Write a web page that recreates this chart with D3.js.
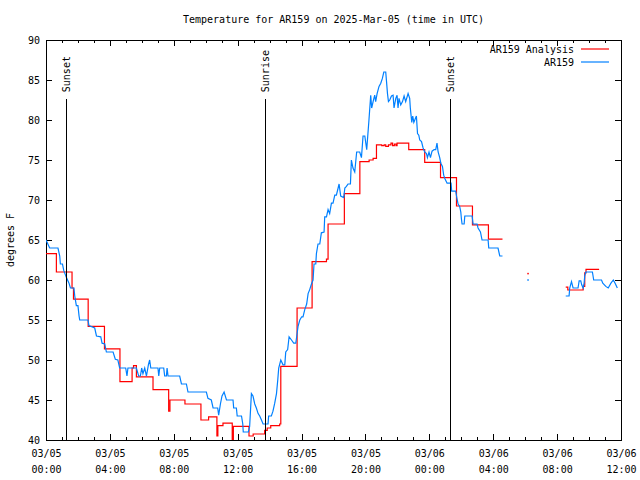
<!DOCTYPE html>
<html><head><meta charset="utf-8">
<script src="https://cdn.jsdelivr.net/npm/d3@7"></script>
<style>
body{margin:0;background:#fff;}
svg{display:block;}
text{font-family:"DejaVu Sans Mono","Liberation Mono",monospace;font-size:10px;fill:#000;}
</style></head><body>
<svg id="chart" width="640" height="480"></svg>
<script>
// ---------------- data (hours after 2025-03-05 00:00 UTC) ----------------
const chartTitle = "Temperature for AR159 on 2025-Mar-05 (time in UTC)";
const yAxisLabel = "degrees F";
const seriesNames = ["AR159 Analysis", "AR159"];
const seriesColors = ["#ff0000", "#0080ff"];

// AR159 station observations (null = gap)
const stationHours = [0,0.23,0.75,0.86,0.90,1.03,1.11,1.28,1.44,1.53,1.75,1.80,1.90,2.00,2.07,2.11,2.63,2.69,3.05,3.16,
  3.43,3.51,3.68,3.78,4.20,4.34,4.50,4.61,4.99,5.07,5.13,5.66,5.80,5.91,5.99,6.07,6.18,6.29,6.41,6.49,
  6.56,7.01,7.06,7.12,7.37,7.43,7.54,7.58,7.64,8.37,8.48,8.79,8.89,10.04,10.14,10.35,10.46,10.75,10.81,10.92,
  11.02,11.15,11.30,11.71,11.75,11.92,11.97,12.24,12.32,12.35,12.67,12.75,12.86,12.96,13.07,13.17,13.28,13.38,13.49,13.59,
  13.90,13.94,14.11,14.21,14.32,14.43,14.51,14.57,14.70,14.84,14.95,15.01,15.13,15.22,15.37,15.51,15.64,15.70,15.78,15.89,
  16.01,16.09,16.20,16.32,16.41,16.51,16.62,16.72,16.78,16.89,16.93,17.03,17.14,17.24,17.41,17.45,17.56,17.66,17.76,17.87,
  17.97,18.08,18.18,18.29,18.35,18.45,18.64,18.71,18.81,18.91,19.06,19.12,19.22,19.33,19.45,19.64,19.75,19.85,19.96,20.08,
  20.22,20.33,20.39,20.48,20.58,20.64,20.73,20.85,20.96,21.06,21.15,21.27,21.32,21.38,21.44,21.52,21.63,21.73,21.79,21.90,
  21.98,22.04,22.10,22.21,22.32,22.42,22.52,22.67,22.77,22.81,22.90,22.96,23.03,23.19,23.26,23.34,23.40,23.51,23.61,23.71,
  23.82,23.88,23.98,24.07,24.17,24.30,24.40,24.48,24.55,24.65,24.72,24.82,24.90,24.97,25.11,25.36,25.40,25.65,25.72,25.80,
  25.90,25.97,26.01,26.05,26.18,26.22,26.68,26.74,26.99,27.05,27.20,27.30,27.68,27.72,28.30,28.41,28.58,29.0,
  30.18,30.5,
  32.54,32.75,32.79,32.90,33.00,33.31,33.38,33.48,33.54,33.63,33.69,33.73,33.79,33.88,34.21,34.29,34.78,34.86,35.05,35.20,
  35.37,35.52,35.63,35.77];
const stationTemps = [65.0,64.0,64.0,63.0,62.0,62.0,61.2,60.3,59.6,59.0,59.0,58.0,56.8,56.8,55.5,55.0,55.0,54.3,54.0,53.0,
  52.9,52.1,52.0,51.0,51.0,50.1,50.0,49.0,49.0,48.0,49.0,49.0,48.0,48.0,49.0,48.3,49.0,48.0,49.4,50.0,
  49.0,49.0,48.0,49.0,49.0,48.0,48.0,49.0,48.0,48.0,47.0,47.0,46.0,46.0,45.2,45.0,44.0,44.0,43.1,44.5,
  45.5,46.0,45.0,45.0,44.0,44.0,43.0,43.0,42.0,41.0,41.0,41.7,45.8,45.5,44.5,44.0,43.3,43.0,42.5,42.0,
  42.0,43.0,43.0,43.6,44.6,45.8,47.5,49.0,50.0,49.4,49.4,51.0,51.3,52.9,52.5,52.1,52.1,53.0,54.2,55.0,
  55.4,55.4,56.3,57.0,58.3,58.8,59.5,60.0,62.0,62.0,63.3,64.5,64.5,65.9,66.0,67.9,67.9,68.8,68.3,69.6,
  69.6,70.6,70.6,71.5,72.0,70.5,70.3,71.5,71.7,72.0,72.0,75.0,74.0,73.5,76.0,76.0,75.3,78.0,78.0,76.3,
  80.0,83.1,81.5,82.3,83.1,82.3,83.3,84.2,84.6,85.2,86.0,86.0,84.8,83.3,82.3,82.5,83.0,83.1,81.5,82.7,
  83.1,81.5,82.7,81.9,82.3,83.0,82.3,83.3,82.7,81.5,79.7,80.5,79.7,80.5,78.3,78.1,77.5,77.3,76.5,76.0,
  75.8,75.3,76.0,75.3,76.1,76.3,76.3,77.1,76.0,75.3,74.6,74.2,73.1,72.7,72.1,72.1,71.1,71.1,70.3,69.5,
  69.2,68.5,67.6,67.0,67.0,68.0,68.0,67.0,67.0,66.5,66.0,65.0,65.0,64.0,64.0,63.0,63.0,null,
  60.0,null,
  58.0,58.0,59.0,59.8,59.0,59.0,59.9,59.9,59.4,59.0,59.6,60.5,61.0,61.0,61.0,60.0,60.0,59.6,59.2,59.0,
  59.6,60.0,59.6,59.0];

// AR159 Analysis (hourly analysis, drawn as steps; null = gap)
const analysisHours = [0,0.65,1.63,1.72,2.64,3.66,4.63,5.39,5.48,5.66,6.70,7.68,7.76,8.70,9.70,10.18,10.70,10.76,11.08,11.66,
  11.73,12.71,12.97,13.69,13.85,14.07,14.63,14.70,15.72,16.66,17.56,17.66,18.68,19.65,20.23,20.48,20.69,21.02,21.17,21.27,
  21.44,21.60,21.70,21.81,21.91,21.98,22.71,23.71,24.70,25.70,26.70,27.70,28.58,29.0,
  30.18,30.5,
  32.54,32.67,33.63,33.73,33.81,34.63];
const analysisTemps = [63.3,61.0,59.0,57.6,54.2,51.4,47.3,49.0,49.3,47.9,46.3,43.6,45.0,44.5,42.5,42.9,40.5,41.8,42.1,40.0,
  41.7,40.5,40.75,41.2,41.5,41.8,42.0,49.2,56.5,62.3,62.6,67.0,70.8,74.8,75.0,75.2,76.9,76.8,76.9,76.7,
  76.9,77.1,76.8,77.0,76.8,77.1,76.3,74.7,72.8,69.25,66.9,65.1,65.1,null,
  60.8,null,
  59.1,58.75,59.2,60.9,61.33,61.33];

// Sun events
const sunHours = [1.31, 13.76, 25.31];
const sunLabels = ["Sunset", "Sunrise", "Sunset"];
const sunLineTop = 82.6;

// Axis ticks
const xTickHours = [0, 4, 8, 12, 16, 20, 24, 28, 32, 36];
const xTickDates = ["03/05","03/05","03/05","03/05","03/05","03/05","03/06","03/06","03/06","03/06"];
const xTickTimes = ["00:00","04:00","08:00","12:00","16:00","20:00","00:00","04:00","08:00","12:00"];
const xMinorHours = d3.range(0, 37, 1);
const yTicks = [40, 45, 50, 55, 60, 65, 70, 75, 80, 85, 90];

// ---------------- layout ----------------
const L = 46, R = 621, T = 40, B = 440;
const svg = d3.select("#chart");
const x = d3.scaleLinear().domain([0, 36]).range([L, R]);
const y = d3.scaleLinear().domain([40, 90]).range([B, T]);

svg.append("defs").append("clipPath").attr("id", "clip")
  .append("rect").attr("x", L).attr("y", T).attr("width", R - L).attr("height", B - T);

// axes (ticks inward, mirrored)
function styleAxis(g) {
  g.select(".domain").remove();
  g.selectAll(".tick line").attr("stroke", "#000").attr("shape-rendering", "crispEdges");
}
svg.append("g").attr("transform", `translate(0,${B})`)
  .call(d3.axisBottom(x).tickValues(xMinorHours).tickSize(-3).tickFormat("")).call(styleAxis);
svg.append("g").attr("transform", `translate(0,${T})`)
  .call(d3.axisTop(x).tickValues(xMinorHours).tickSize(-3).tickFormat("")).call(styleAxis);
svg.append("g").attr("transform", `translate(0,${T})`)
  .call(d3.axisTop(x).tickValues(xTickHours).tickSize(-6).tickFormat("")).call(styleAxis);
const xb = svg.append("g").attr("transform", `translate(0,${B})`)
  .call(d3.axisBottom(x).tickValues(xTickHours).tickSize(-6).tickPadding(10)
    .tickFormat((d, i) => xTickDates[i])).call(styleAxis);
xb.selectAll(".tick text").each(function (d, i) {
  const t = d3.select(this);
  t.text(null).attr("font-family", null).attr("font-size", null);
  t.append("tspan").attr("x", 0).text(xTickDates[i]);
  t.append("tspan").attr("x", 0).attr("dy", 16).text(xTickTimes[i]);
});
const yl = svg.append("g").attr("transform", `translate(${L},0)`)
  .call(d3.axisLeft(y).tickValues(yTicks).tickSize(-6).tickPadding(6)).call(styleAxis);
yl.selectAll(".tick text").attr("font-family", null).attr("font-size", null);
svg.append("g").attr("transform", `translate(${R},0)`)
  .call(d3.axisRight(y).tickValues(yTicks).tickSize(-6).tickFormat("")).call(styleAxis);
svg.selectAll("g").attr("font-family", null).attr("font-size", null);

// frame
svg.append("rect").attr("x", L).attr("y", T).attr("width", R - L).attr("height", B - T)
  .attr("fill", "none").attr("stroke", "#000").attr("shape-rendering", "crispEdges");

// series
function segments(hours, temps) {
  const segs = []; let cur = [];
  hours.forEach((h, i) => {
    if (temps[i] == null) { if (cur.length) segs.push(cur); cur = []; }
    else cur.push([h, temps[i]]);
  });
  if (cur.length) segs.push(cur);
  return segs;
}
const plot = svg.append("g").attr("clip-path", "url(#clip)");
function drawSeries(hours, temps, color, curve) {
  const line = d3.line().x(d => x(d[0])).y(d => y(d[1])).curve(curve);
  segments(hours, temps).forEach(seg => {
    if (seg.length > 1) {
      plot.append("path").attr("d", line(seg)).attr("fill", "none")
        .attr("stroke", color).attr("stroke-width", 1.2).attr("stroke-linejoin", "miter");
    } else {
      plot.append("rect").attr("x", x(seg[0][0]) - 0.75).attr("y", y(seg[0][1]) - 0.75)
        .attr("width", 1.5).attr("height", 1.5).attr("fill", color);
    }
  });
}
drawSeries(analysisHours, analysisTemps, seriesColors[0], d3.curveStepAfter);
drawSeries(stationHours, stationTemps, seriesColors[1], d3.curveLinear);

// sun lines
sunHours.forEach((h, i) => {
  svg.append("line").attr("x1", x(h)).attr("x2", x(h)).attr("y1", y(sunLineTop)).attr("y2", B)
    .attr("stroke", "#000").attr("shape-rendering", "crispEdges");
  svg.append("text").attr("transform", `translate(${x(h)},${y(sunLineTop) - 7}) rotate(-90)`)
    .attr("dy", "0.35em").attr("text-anchor", "start").text(sunLabels[i]);
});

// title & y label
svg.append("text").attr("x", (L + R) / 2).attr("y", 23).attr("text-anchor", "middle").text(chartTitle);
svg.append("text").attr("transform", "translate(10,240) rotate(-90)").attr("dy", "0.35em")
  .attr("text-anchor", "middle").text(yAxisLabel);

// legend
const legendY = [49, 62];
seriesNames.forEach((name, i) => {
  svg.append("text").attr("x", 574).attr("y", legendY[i]).attr("dy", "0.35em")
    .attr("text-anchor", "end").text(name);
  svg.append("line").attr("x1", 581).attr("x2", 609).attr("y1", legendY[i]).attr("y2", legendY[i])
    .attr("stroke", seriesColors[i]).attr("stroke-width", 1.2);
});
</script>
</body></html>
